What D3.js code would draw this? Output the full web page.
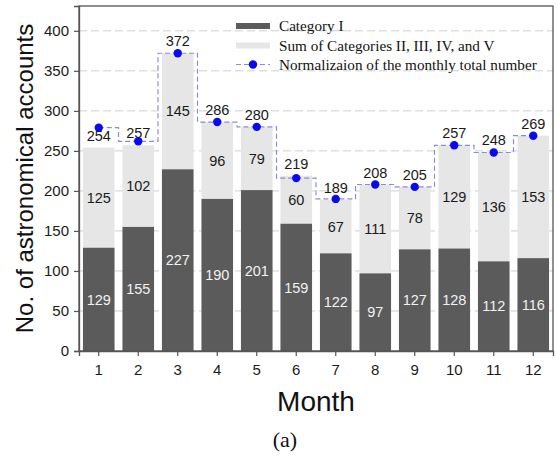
<!DOCTYPE html>
<html>
<head>
<meta charset="utf-8">
<script src="https://cdn.jsdelivr.net/npm/d3@7"></script>
<style>
  html, body { margin: 0; padding: 0; background: #fff; }
  svg { display: block; }
</style>
</head>
<body>
<svg id="chart" width="558" height="457"></svg>
<script>
// Monthly counts of astronomical accounts
const months = [1, 2, 3, 4, 5, 6, 7, 8, 9, 10, 11, 12];
const categoryI = [129, 155, 227, 190, 201, 159, 122, 97, 127, 128, 112, 116];
const categoriesIIToV = [125, 102, 145, 96, 79, 60, 67, 111, 78, 129, 136, 153];
const normalizedTotal = [279, 262, 372, 286, 280, 216, 190, 208, 205, 257, 248, 269];
const yTicks = [0, 50, 100, 150, 200, 250, 300, 350, 400];
const legendLabels = [
  "Category I",
  "Sum of Categories II, III, IV, and V",
  "Normalizaion of the monthly total number"
];

const W = 558, H = 457;
const margin = { top: 6, right: 5, bottom: 106, left: 79 };
const iw = W - margin.left - margin.right;
const ih = H - margin.top - margin.bottom;

const darkFill = "#5b5b5b";
const lightFill = "#e6e6e6";
const frameColor = "#555";
const blue = "#0a0aee";
const stepColor = "#8a8ae0";
const sans = "Liberation Sans, Arial, sans-serif";
const serif = "Liberation Serif, Times New Roman, serif";

const svg = d3.select("#chart");
const g = svg.append("g").attr("transform", `translate(${margin.left},${margin.top})`);

const x = d3.scaleBand().domain(months).range([0, iw]).paddingInner(0.2).paddingOuter(0.1);
const y = d3.scaleLinear().domain([0, 431]).range([ih, 0]);

const rows = months.map((m, i) => ({
  month: m,
  a: categoryI[i],
  b: categoriesIIToV[i],
  total: categoryI[i] + categoriesIIToV[i],
  norm: normalizedTotal[i]
}));

// dashed horizontal grid
g.append("g")
  .selectAll("line")
  .data(yTicks.filter(t => t > 0))
  .join("line")
  .attr("x1", 0).attr("x2", iw)
  .attr("y1", d => y(d)).attr("y2", d => y(d))
  .attr("stroke", "#cfcfcf")
  .attr("stroke-width", 1)
  .attr("stroke-dasharray", "8,4");

// stacked bars
g.append("g").selectAll("rect")
  .data(rows)
  .join("rect")
  .attr("x", d => x(d.month))
  .attr("width", x.bandwidth())
  .attr("y", d => y(d.total))
  .attr("height", d => y(d.a) - y(d.total))
  .attr("fill", lightFill);

g.append("g").selectAll("rect")
  .data(rows)
  .join("rect")
  .attr("x", d => x(d.month))
  .attr("width", x.bandwidth())
  .attr("y", d => y(d.a))
  .attr("height", d => y(0) - y(d.a))
  .attr("fill", darkFill);

// segment labels
const labelSize = 14.5;
const cx = d => x(d.month) + x.bandwidth() / 2;
g.append("g").selectAll("text")
  .data(rows)
  .join("text")
  .attr("x", cx)
  .attr("y", d => (y(0) + y(d.a)) / 2)
  .attr("dy", "0.36em")
  .attr("text-anchor", "middle")
  .attr("font-family", sans)
  .attr("font-size", labelSize)
  .attr("fill", "#f2f2f2")
  .text(d => d.a);

g.append("g").selectAll("text")
  .data(rows)
  .join("text")
  .attr("x", cx)
  .attr("y", d => (y(d.a) + y(d.total)) / 2)
  .attr("dy", "0.36em")
  .attr("text-anchor", "middle")
  .attr("font-family", sans)
  .attr("font-size", labelSize)
  .attr("fill", "#1a1a1a")
  .text(d => d.b);

// totals above bars
g.append("g").selectAll("text")
  .data(rows)
  .join("text")
  .attr("x", cx)
  .attr("y", d => y(d.total) - 7)
  .attr("text-anchor", "middle")
  .attr("font-family", sans)
  .attr("font-size", labelSize)
  .attr("fill", "#1a1a1a")
  .text(d => d.total);

// normalized totals: dashed step line with dots
const stepLine = d3.line()
  .x(cx)
  .y(d => y(d.norm))
  .curve(d3.curveStep);

g.append("path")
  .datum(rows)
  .attr("d", stepLine)
  .attr("fill", "none")
  .attr("stroke", stepColor)
  .attr("stroke-width", 1.2)
  .attr("stroke-dasharray", "5,3");

g.append("g").selectAll("circle")
  .data(rows)
  .join("circle")
  .attr("cx", cx)
  .attr("cy", d => y(d.norm))
  .attr("r", 4.2)
  .attr("fill", blue);

// frame
g.append("rect")
  .attr("x", 0).attr("y", 0)
  .attr("width", iw).attr("height", ih)
  .attr("fill", "none")
  .attr("stroke", frameColor)
  .attr("stroke-width", 1.3);

// axes
const yAxis = g.append("g")
  .call(d3.axisLeft(y).tickValues(yTicks).tickSize(5).tickPadding(5));
const xAxis = g.append("g")
  .attr("transform", `translate(0,${ih})`)
  .call(d3.axisBottom(x).tickSize(5).tickPadding(8));

[yAxis, xAxis].forEach(ax => {
  ax.select(".domain").attr("stroke", frameColor).attr("stroke-width", 1.3);
  ax.selectAll(".tick line").attr("stroke", frameColor).attr("stroke-width", 1.2);
  ax.selectAll(".tick text")
    .attr("font-family", sans)
    .attr("fill", "#1a1a1a");
});
yAxis.selectAll(".tick text").attr("font-size", 15);
xAxis.selectAll(".tick text").attr("font-size", 15);

// axis titles
svg.append("text")
  .attr("transform", `translate(33,${margin.top + ih / 2}) rotate(-90)`)
  .attr("text-anchor", "middle")
  .attr("font-family", sans)
  .attr("font-size", 24)
  .attr("fill", "#111")
  .text("No. of astronomical accounts");

svg.append("text")
  .attr("x", margin.left + iw / 2)
  .attr("y", 411)
  .attr("text-anchor", "middle")
  .attr("font-family", sans)
  .attr("font-size", 28)
  .attr("fill", "#111")
  .text("Month");

svg.append("text")
  .attr("x", 285)
  .attr("y", 447)
  .attr("text-anchor", "middle")
  .attr("font-family", serif)
  .attr("font-size", 22)
  .attr("fill", "#111")
  .text("(a)");

// legend
const lg = svg.append("g");
const lx = 236, lw = 34, ly = [26, 45.5, 64.5];
lg.append("rect").attr("x", lx).attr("y", ly[0] - 3).attr("width", lw).attr("height", 6).attr("fill", darkFill);
lg.append("rect").attr("x", lx).attr("y", ly[1] - 3).attr("width", lw).attr("height", 6).attr("fill", lightFill);
lg.append("line")
  .attr("x1", lx).attr("x2", lx + lw)
  .attr("y1", ly[2]).attr("y2", ly[2])
  .attr("stroke", stepColor).attr("stroke-width", 1.2)
  .attr("stroke-dasharray", "5,3");
lg.append("circle").attr("cx", lx + lw / 2).attr("cy", ly[2]).attr("r", 4.2).attr("fill", blue);
lg.selectAll("text")
  .data(legendLabels)
  .join("text")
  .attr("x", 279)
  .attr("y", (d, i) => ly[i])
  .attr("dy", "0.33em")
  .attr("font-family", serif)
  .attr("font-size", 15.2)
  .attr("fill", "#111")
  .text(d => d);
</script>
</body>
</html>
